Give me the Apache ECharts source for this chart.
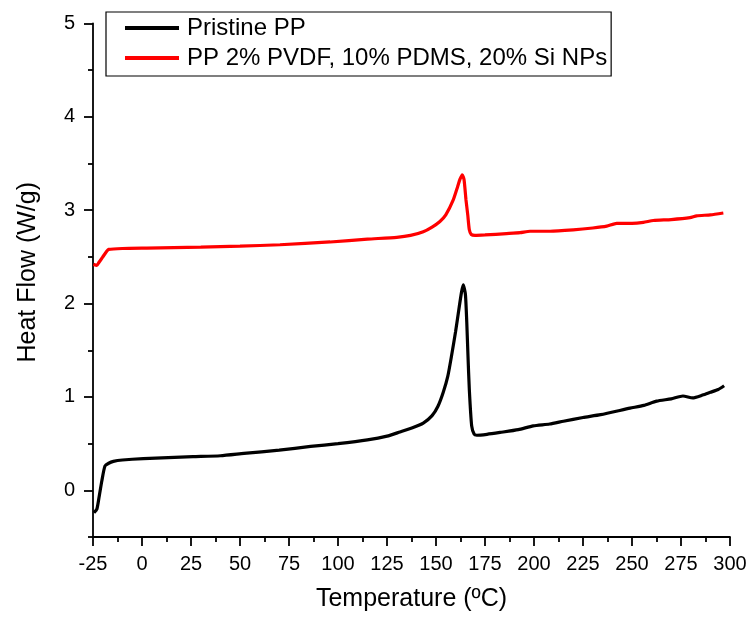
<!DOCTYPE html>
<html>
<head>
<meta charset="utf-8">
<script src="https://cdn.jsdelivr.net/npm/echarts@6.0.0/dist/echarts.min.js"></script>
<style>
  html, body { margin: 0; padding: 0; background: #fff; }
  #chart { width: 750px; height: 618px; }
</style>
</head>
<body>
<div id="chart"></div>
<script>
// Pristine PP (temperature, heat flow)
const pristineT = [-24.5, -23, -21.8, -20.5, -18.9, -17, -14.6, -10, 0.7, 26, 40, 52, 70, 86, 100, 115, 125, 131.6, 138, 143.5, 148, 151, 153.7, 156, 158, 160, 161.4, 163, 163.9, 165, 165.7, 166.3, 167, 168.2, 169.5, 170.8, 176, 182.7, 192, 199.6, 208, 215, 225, 234, 249, 256, 262.6, 270, 276, 281, 286, 290, 294, 297]
const pristineHF = [-0.24, -0.2, -0.06, 0.1, 0.26, 0.29, 0.31, 0.325, 0.34, 0.36, 0.37, 0.395, 0.43, 0.47, 0.5, 0.54, 0.58, 0.625, 0.67, 0.72, 0.8, 0.9, 1.05, 1.22, 1.45, 1.7, 1.9, 2.12, 2.2, 2.1, 1.8, 1.45, 1.08, 0.69, 0.6, 0.59, 0.6, 0.62, 0.65, 0.69, 0.71, 0.74, 0.78, 0.81, 0.88, 0.91, 0.955, 0.98, 1.01, 0.99, 1.02, 1.05, 1.08, 1.12]

// PP 2% PVDF, 10% PDMS, 20% Si NPs
const blendT = [-24.8, -23, -22, -20, -18, -17, -10, 2.4, 30, 50, 70.4, 96, 115, 130, 137, 143.5, 148, 152, 155, 158.8, 161, 162.2, 163.4, 164.3, 165.3, 166.2, 167, 168, 169.9, 175, 186, 192.9, 198, 208.2, 220, 230, 237.1, 242.2, 250, 255.8, 260.9, 270, 279.6, 283, 290, 296.6]
const blendHF = [2.42, 2.41, 2.44, 2.5, 2.56, 2.58, 2.59, 2.595, 2.605, 2.615, 2.63, 2.66, 2.69, 2.71, 2.73, 2.77, 2.82, 2.88, 2.95, 3.11, 3.25, 3.33, 3.38, 3.33, 3.11, 2.95, 2.79, 2.74, 2.73, 2.735, 2.75, 2.76, 2.775, 2.775, 2.79, 2.81, 2.83, 2.86, 2.86, 2.87, 2.89, 2.9, 2.92, 2.94, 2.95, 2.97]

const yLabels = [0, 1, 2, 3, 4, 5]
const yMinor = [-0.5, 0.5, 1.5, 2.5, 3.5, 4.5]
const xMinor = [-12.5, 12.5, 37.5, 62.5, 87.5, 112.5, 137.5, 162.5, 187.5, 212.5, 237.5, 262.5, 287.5]

const seriesNames = ['Pristine PP', 'PP 2% PVDF, 10% PDMS, 20% Si NPs']

const zip = (xs, ys) => xs.map((x, i) => [x, ys[i]])

const chart = echarts.init(document.getElementById('chart'))

const font = 'Liberation Sans, Arial, sans-serif'
const tickStyle = { color: '#000', width: 1.8 }

const option = {
  animation: false,
  grid: {
    left: 93,
    right: 20,
    top: 23.5,
    bottom: 81,
  },
  legend: {
    orient: 'vertical',
    left: 106,
    top: 12,
    padding: [3, 4, 5, 19],
    itemGap: 4,
    itemWidth: 54,
    itemHeight: 4,
    icon: 'rect',
    borderColor: '#000',
    borderWidth: 1.2,
    textStyle: {
      fontFamily: font,
      fontSize: 24,
      lineHeight: 26,
      color: '#000',
      padding: [0, 0, 0, 3],
    },
    data: seriesNames,
  },
  xAxis: [
    {
      type: 'value',
      min: -25,
      max: 300,
      interval: 25,
      name: 'Temperature (ºC)',
      nameLocation: 'middle',
      nameGap: 50,
      nameTextStyle: { fontFamily: font, fontSize: 25, color: '#000' },
      axisLine: { onZero: false, lineStyle: tickStyle },
      axisTick: { length: 9, lineStyle: tickStyle },
      axisLabel: { fontFamily: font, fontSize: 20, color: '#000', margin: 17 },
      splitLine: { show: false },
    },
    {
      // minor ticks only
      type: 'value',
      min: -25,
      max: 300,
      position: 'bottom',
      axisLine: { show: false, onZero: false },
      axisTick: { show: true, length: 5, customValues: xMinor, lineStyle: tickStyle },
      axisLabel: { show: false },
      splitLine: { show: false },
    },
  ],
  yAxis: [
    {
      type: 'value',
      min: -0.5,
      max: 5,
      name: 'Heat Flow (W/g)',
      nameLocation: 'middle',
      nameGap: 52,
      nameTextStyle: { fontFamily: font, fontSize: 25, color: '#000', padding: [0, 0, 0, 16] },
      axisLine: { show: true, onZero: false, lineStyle: tickStyle },
      axisTick: { show: true, length: 9, customValues: yLabels, lineStyle: tickStyle },
      axisLabel: { fontFamily: font, fontSize: 20, color: '#000', margin: 18, customValues: yLabels },
      splitLine: { show: false },
    },
    {
      // minor ticks only
      type: 'value',
      min: -0.5,
      max: 5,
      position: 'left',
      axisLine: { show: false, onZero: false },
      axisTick: { show: true, length: 5, customValues: yMinor, lineStyle: tickStyle },
      axisLabel: { show: false },
      splitLine: { show: false },
    },
  ],
  series: [
    {
      name: seriesNames[0],
      type: 'line',
      data: zip(pristineT, pristineHF),
      symbol: 'none',
      smooth: 0.2,
      lineStyle: { color: '#000', width: 3.2 },
      itemStyle: { color: '#000' },
    },
    {
      name: seriesNames[1],
      type: 'line',
      data: zip(blendT, blendHF),
      symbol: 'none',
      smooth: 0.2,
      lineStyle: { color: '#ff0000', width: 3.2 },
      itemStyle: { color: '#ff0000' },
    },
  ],
}

chart.setOption(option)
</script>
</body>
</html>
